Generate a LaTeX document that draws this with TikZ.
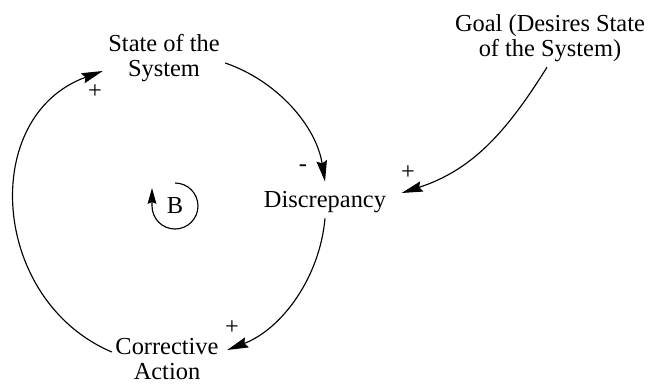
\documentclass[tikz,border=0pt]{standalone}
\usepackage{fontspec}
\setmainfont{Liberation Serif}
\usepackage{tikz}
\usetikzlibrary{positioning, arrows.meta, calc}

\begin{document}
\begin{tikzpicture}[x=0.02cm, y=0.02cm,
	lbl/.style={font=\fontsize{13.9}{14.2}\selectfont, align=center, inner sep=3pt},
	link/.style={line width=0.65pt, -{Stealth[length=12pt, width=6pt, inset=1.5pt]}}]
					\useasboundingbox (0,0) rectangle (657,-386);
					\node[lbl] (state) at (164,-58) {State of the\\System};
					\node[lbl] (goal) at (550,-38) {Goal (Desires State\\of the System)};
					\node[lbl] (disc) at (325,-202) {Discrepancy};
					\node[lbl] (corr) at (167,-359) {Corrective\\Action};
					\node[lbl] (b) at (175,-206) {B};
					\draw[link] ([shift={(0,-5)}]state.east) to[out=-19, in=99, looseness=0.92] ([shift={(0,4)}]disc.north);
					\draw[link] ([shift={(-3,0)}]goal.south) to[out=-122, in=18] ([shift={(10,9)}]disc.east);
					\draw[link] (disc.south) to[out=-95, in=21, looseness=0.92] ([shift={(3,9)}]corr.east);
					\draw[link] ([shift={(2,7)}]corr.west) to[out=157, in=-160, looseness=1.2] ([shift={(0,-13)}]state.west);
					\draw[line width=0.65pt, -{Stealth[length=9pt, width=5pt, inset=1pt]}] ([shift={(0,23)}]b.center) arc[start angle=90, end angle=-180, radius=23] -- ++(0,18);
					\node[lbl] (p1) at (95,-92) {+}; \node[lbl] (m1) at (303,-168) {-};
					\node[lbl] (p2) at (408,-173) {+}; \node[lbl] (p3) at (232,-328) {+};
				\end{tikzpicture}
\end{document}
